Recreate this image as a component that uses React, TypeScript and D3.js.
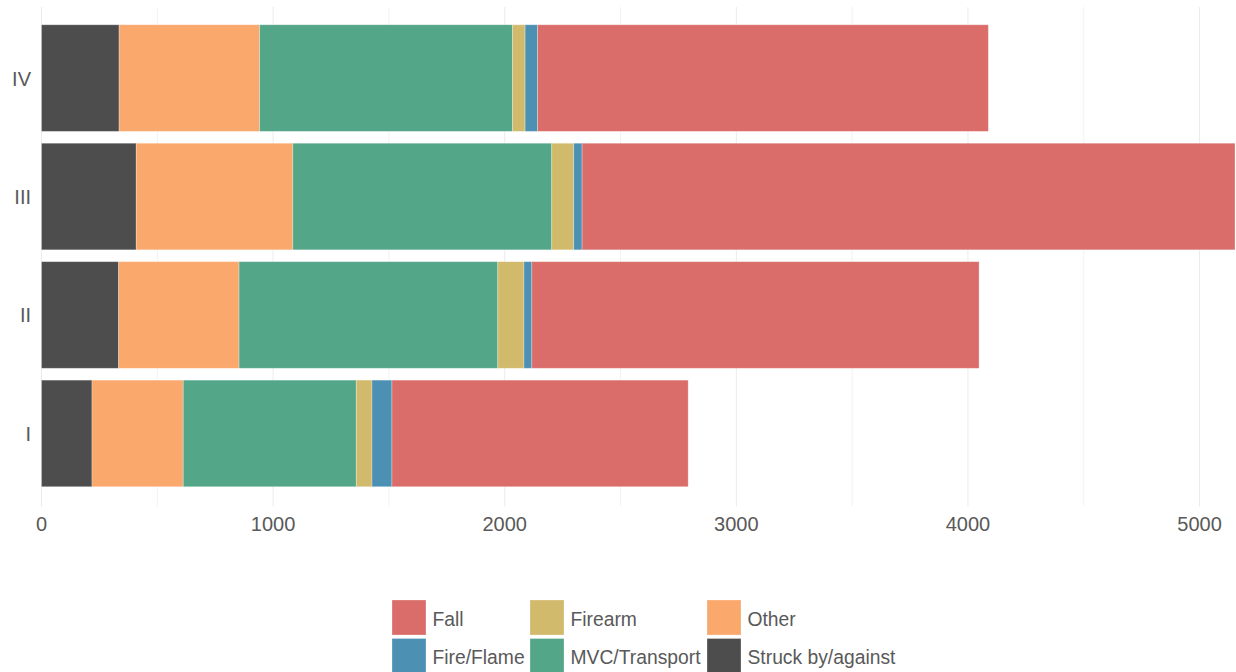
import React from "react";
import * as d3 from "d3";

const categories = ["I", "II", "III", "IV"];
const seriesNames = ["Struck by/against", "Other", "MVC/Transport", "Firearm", "Fire/Flame", "Fall"];
const struck = [218, 333, 409, 335];
const other = [394, 520, 676, 607];
const mvc = [747, 1117, 1118, 1092];
const firearm = [68, 113, 95, 54];
const fire = [86, 34, 36, 54];
const fall = [1279, 1931, 2819, 1946];
const xTicks = [0, 1000, 2000, 3000, 4000, 5000];
const legendOrder = ["Fall", "Fire/Flame", "Firearm", "MVC/Transport", "Other", "Struck by/against"];

const colors: Record<string, string> = {
  "Fall": "#DA6D69",
  "Firearm": "#D1BA6B",
  "Fire/Flame": "#4C90B3",
  "MVC/Transport": "#53A688",
  "Other": "#FAA86C",
  "Struck by/against": "#4D4D4D",
};

const W = 1236;
const H = 672;
const font = "'Liberation Sans', Arial, Helvetica, sans-serif";

export default function App() {
  const seriesValues = [struck, other, mvc, firearm, fire, fall];
  const rows = categories.map((c, i) => {
    const r: any = { cat: c };
    seriesNames.forEach((s, j) => (r[s] = seriesValues[j][i]));
    return r;
  });
  const stack = d3.stack<any>().keys(seriesNames);
  const layers = stack(rows);
  const maxTotal = d3.max(layers[layers.length - 1], (d) => d[1]) as number;

  const panelTop = 7;
  const panelBottom = 504.5;
  const x = d3.scaleLinear().domain([0, maxTotal]).range([41.5, 1235]);
  const step = (panelBottom - panelTop) / (categories.length + 0.2);
  const y = d3
    .scaleBand()
    .domain([...categories].reverse())
    .range([panelTop + 0.1 * step, panelBottom - 0.1 * step])
    .paddingInner(0.1)
    .paddingOuter(0.05);

  const minorTicks = d3.range(500, maxTotal, 1000);

  return (
    <svg width={W} height={H} style={{ position: "absolute", left: 0, top: 0 }} fontFamily={font}>
      <rect width={W} height={H} fill="#fff" />
      {minorTicks.map((t) => (
        <line key={"m" + t} x1={x(t)} x2={x(t)} y1={panelTop} y2={panelBottom + 2} stroke="#f2f2f2" strokeWidth={1} />
      ))}
      {xTicks.map((t) => (
        <line key={"g" + t} x1={x(t)} x2={x(t)} y1={panelTop} y2={panelBottom + 2} stroke="#ebebeb" strokeWidth={1} />
      ))}
      {layers.map((layer) =>
        layer.map((d, i) => (
          <rect
            key={layer.key + i}
            x={x(d[0])}
            width={x(d[1]) - x(d[0])}
            y={y(d.data.cat)}
            height={y.bandwidth()}
            fill={colors[layer.key]}
            stroke="rgba(255,255,255,0.35)"
            strokeWidth={0.8}
          />
        ))
      )}
      {xTicks.map((t) => (
        <text key={"t" + t} x={x(t)} y={531} textAnchor="middle" fontSize={20} fill="#595959">
          {t}
        </text>
      ))}
      {categories.map((c) => (
        <text
          key={"c" + c}
          x={31}
          y={(y(c) as number) + y.bandwidth() / 2 + 7.5}
          textAnchor="end"
          fontSize={20}
          fill="#595959"
        >
          {c}
        </text>
      ))}
      {legendOrder.map((name, i) => {
        const col = Math.floor(i / 2);
        const row = i % 2;
        const colX = [392, 530, 707][col];
        const ky = 600 + row * 38.5;
        return (
          <g key={"l" + name}>
            <rect x={colX} y={ky} width={34} height={35} fill={colors[name]} stroke="rgba(255,255,255,0.35)" strokeWidth={0.8} />
            <text x={colX + 40.5} y={ky + 25.5} fontSize={19.3} fill="#595959">
              {name}
            </text>
          </g>
        );
      })}
    </svg>
  );
}
